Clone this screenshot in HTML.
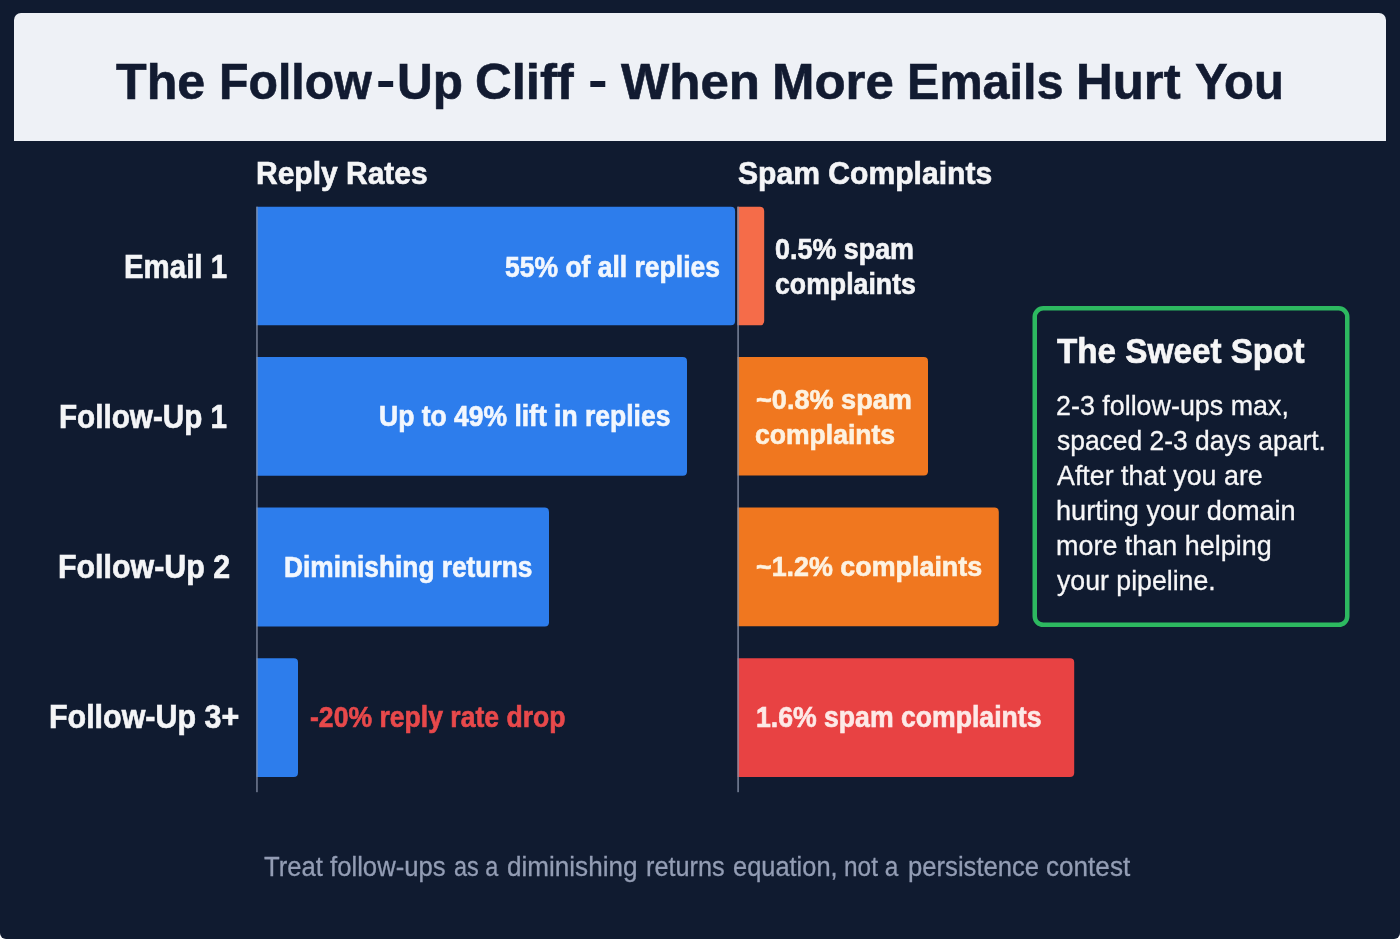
<!DOCTYPE html>
<html lang="en">
<head>
<meta charset="utf-8">
<title>The Follow-Up Cliff - When More Emails Hurt You</title>
<style>
*{box-sizing:border-box;margin:0;padding:0}
html,body{width:1400px;height:939px;overflow:hidden;background:#ffffff}
body{font-family:"Liberation Sans",sans-serif;position:relative}
#page{position:absolute;left:0;top:0;width:1400px;height:939px;background:#101b30;border-radius:0 0 6px 6px;overflow:hidden}
#titlebox{position:absolute;left:14px;top:13px;width:1372px;height:128px;background:#eef1f6;border-radius:7px 7px 0 0}
svg{position:absolute;left:0;top:0}
h1,h2,h3,p{font:inherit}
.t{display:block;position:absolute;white-space:nowrap;line-height:1;transform-origin:0 0}
</style>
</head>
<body>
<div id="page">
<div id="titlebox"></div>
<svg width="1400" height="939" viewBox="0 0 1400 939">
<path fill="#2d7dec" d="M256.5 206.7H730.9Q735.1 206.7 735.1 210.89999999999998V321.0Q735.1 325.2 730.9 325.2H256.5Z"/>
<path fill="#2d7dec" d="M256.5 357H682.8Q687 357 687 361.2V471.5Q687 475.7 682.8 475.7H256.5Z"/>
<path fill="#2d7dec" d="M256.5 507.5H544.8Q549 507.5 549 511.7V622.1999999999999Q549 626.4 544.8 626.4H256.5Z"/>
<path fill="#2d7dec" d="M256.5 658.2H293.8Q298 658.2 298 662.4000000000001V772.8Q298 777 293.8 777H256.5Z"/>
<path fill="#f56c49" d="M737.4 206.7H760.0Q764.2 206.7 764.2 210.89999999999998V321.0Q764.2 325.2 760.0 325.2H737.4Z"/>
<path fill="#f0771f" d="M737.6 357H923.8Q928 357 928 361.2V471.3Q928 475.5 923.8 475.5H737.6Z"/>
<path fill="#f0771f" d="M737.6 507.5H994.5999999999999Q998.8 507.5 998.8 511.7V622.0Q998.8 626.2 994.5999999999999 626.2H737.6Z"/>
<path fill="#e84243" d="M737.6 658.2H1070.0Q1074.2 658.2 1074.2 662.4000000000001V772.8Q1074.2 777 1070.0 777H737.6Z"/>
<rect x="256.2" y="206.7" width="1.5" height="585.5" fill="#8691a6" fill-opacity="0.85"/>
<rect x="737.3" y="206.7" width="1.6" height="585.5" fill="#8691a6" fill-opacity="0.85"/>
<rect x="1034.75" y="308.35" width="312.5" height="316.5" rx="8.5" ry="8.5" fill="none" stroke="#2db960" stroke-width="4.5"/>
</svg>
<h1><span class="t" style="left:116.30px;top:56.70px;font-size:50px;font-weight:700;color:#121b31;-webkit-text-stroke:0.6px currentColor;transform:scaleX(1.0036)">The</span> <span class="t" style="left:218.89px;top:56.70px;font-size:50px;font-weight:700;color:#121b31;-webkit-text-stroke:0.6px currentColor;transform:scaleX(0.9653)">Follow</span><span class="t" style="left:375.63px;top:55.15px;font-size:50px;font-weight:700;color:#121b31;transform:scaleX(1.1714)">-</span><span class="t" style="left:396.63px;top:56.70px;font-size:50px;font-weight:700;color:#121b31;-webkit-text-stroke:0.6px currentColor;transform:scaleX(0.9903)">Up</span> <span class="t" style="left:475.07px;top:56.70px;font-size:50px;font-weight:700;color:#121b31;-webkit-text-stroke:0.6px currentColor;transform:scaleX(1.0162)">Cliff</span> <span class="t" style="left:588.32px;top:55.15px;font-size:50px;font-weight:700;color:#121b31;transform:scaleX(1.1786)">-</span> <span class="t" style="left:621.31px;top:56.70px;font-size:50px;font-weight:700;color:#121b31;-webkit-text-stroke:0.6px currentColor;transform:scaleX(1.0213)">When</span> <span class="t" style="left:772.25px;top:56.70px;font-size:50px;font-weight:700;color:#121b31;-webkit-text-stroke:0.6px currentColor;transform:scaleX(1.0194)">More</span> <span class="t" style="left:907.38px;top:56.70px;font-size:50px;font-weight:700;color:#121b31;-webkit-text-stroke:0.6px currentColor;transform:scaleX(0.9713)">Emails</span> <span class="t" style="left:1076.25px;top:56.70px;font-size:50px;font-weight:700;color:#121b31;-webkit-text-stroke:0.6px currentColor;transform:scaleX(1.0178)">Hurt</span> <span class="t" style="left:1195.29px;top:56.70px;font-size:50px;font-weight:700;color:#121b31;-webkit-text-stroke:0.6px currentColor;transform:scaleX(0.9799)">You</span></h1>
<h2><span class="t" style="left:255.73px;top:156.68px;font-size:32px;font-weight:700;color:#f4f5f7;-webkit-text-stroke:0.65px currentColor;transform:scaleX(0.9374)">Reply Rates</span></h2>
<h2><span class="t" style="left:738.31px;top:156.68px;font-size:32px;font-weight:700;color:#f4f5f7;-webkit-text-stroke:0.65px currentColor;transform:scaleX(0.9403)">Spam Complaints</span></h2>
<div class="row"><h3><span class="t" style="left:124.01px;top:250.18px;font-size:33px;font-weight:700;color:#f4f5f7;-webkit-text-stroke:0.65px currentColor;transform:scaleX(0.8914)">Email 1</span></h3> <p><span class="t" style="left:504.80px;top:252.68px;font-size:29px;font-weight:700;color:#f2f7fe;-webkit-text-stroke:0.65px currentColor;transform:scaleX(0.9134)">55% of all replies</span></p> <p><span class="t" style="left:774.87px;top:234.68px;font-size:29px;font-weight:700;color:#f4f5f7;-webkit-text-stroke:0.65px currentColor;transform:scaleX(0.9271)">0.5% spam</span> <span class="t" style="left:774.88px;top:269.68px;font-size:29px;font-weight:700;color:#f4f5f7;-webkit-text-stroke:0.65px currentColor;transform:scaleX(0.9201)">complaints</span></p></div>
<div class="row"><h3><span class="t" style="left:58.99px;top:400.18px;font-size:33px;font-weight:700;color:#f4f5f7;-webkit-text-stroke:0.65px currentColor;transform:scaleX(0.8987)">Follow-Up 1</span></h3> <p><span class="t" style="left:379.38px;top:402.18px;font-size:29px;font-weight:700;color:#f2f7fe;-webkit-text-stroke:0.65px currentColor;transform:scaleX(0.9132)">Up to 49% lift in replies</span></p> <p><span class="t" style="left:755.61px;top:385.18px;font-size:28.5px;font-weight:700;color:#fdf2e1;-webkit-text-stroke:0.65px currentColor;transform:scaleX(0.9505)">~0.8% spam</span> <span class="t" style="left:755.37px;top:420.18px;font-size:28.5px;font-weight:700;color:#fdf2e1;-webkit-text-stroke:0.65px currentColor;transform:scaleX(0.9314)">complaints</span></p></div>
<div class="row"><h3><span class="t" style="left:58.46px;top:550.42px;font-size:33px;font-weight:700;color:#f4f5f7;-webkit-text-stroke:0.65px currentColor;transform:scaleX(0.9203)">Follow-Up 2</span></h3> <p><span class="t" style="left:283.89px;top:552.67px;font-size:29px;font-weight:700;color:#f2f7fe;-webkit-text-stroke:0.65px currentColor;transform:scaleX(0.9066)">Diminishing returns</span></p> <p><span class="t" style="left:755.61px;top:551.92px;font-size:28.5px;font-weight:700;color:#fdf2e1;-webkit-text-stroke:0.65px currentColor;transform:scaleX(0.9423)">~1.2% complaints</span></p></div>
<div class="row"><h3><span class="t" style="left:49.46px;top:700.17px;font-size:33px;font-weight:700;color:#f4f5f7;-webkit-text-stroke:0.65px currentColor;transform:scaleX(0.9220)">Follow-Up 3+</span></h3> <p><span class="t" style="left:309.88px;top:702.67px;font-size:29px;font-weight:700;color:#e8494b;-webkit-text-stroke:0.65px currentColor;transform:scaleX(0.9163)">-20% reply rate drop</span></p> <p><span class="t" style="left:755.78px;top:703.17px;font-size:29px;font-weight:700;color:#fde9e7;-webkit-text-stroke:0.65px currentColor;transform:scaleX(0.9177)">1.6% spam complaints</span></p></div>
<aside><h3><span class="t" style="left:1056.81px;top:332.68px;font-size:35px;font-weight:700;color:#f6f6f7;-webkit-text-stroke:0.65px currentColor;transform:scaleX(0.9500)">The Sweet Spot</span></h3> <p><span class="t" style="left:1056.18px;top:392.35px;font-size:28px;font-weight:400;color:#f7f7f8;-webkit-text-stroke:0.3px currentColor;transform:scaleX(0.9593)">2-3 follow-ups max,</span> <span class="t" style="left:1057.14px;top:427.35px;font-size:28px;font-weight:400;color:#f7f7f8;-webkit-text-stroke:0.3px currentColor;transform:scaleX(0.9440)">spaced 2-3 days apart.</span> <span class="t" style="left:1056.64px;top:462.35px;font-size:28px;font-weight:400;color:#f7f7f8;-webkit-text-stroke:0.3px currentColor;transform:scaleX(0.9580)">After that you are</span> <span class="t" style="left:1056.18px;top:497.35px;font-size:28px;font-weight:400;color:#f7f7f8;-webkit-text-stroke:0.3px currentColor;transform:scaleX(0.9686)">hurting your domain</span> <span class="t" style="left:1056.18px;top:531.85px;font-size:28px;font-weight:400;color:#f7f7f8;-webkit-text-stroke:0.3px currentColor;transform:scaleX(0.9622)">more than helping</span> <span class="t" style="left:1056.64px;top:566.85px;font-size:28px;font-weight:400;color:#f7f7f8;-webkit-text-stroke:0.3px currentColor;transform:scaleX(0.9526)">your pipeline.</span></p></aside>
<p class="foot"><span class="t" style="left:263.74px;top:854.35px;font-size:27px;font-weight:400;color:#939db4;-webkit-text-stroke:0.3px currentColor;transform:scaleX(0.9504)">Treat follow-ups</span> <span class="t" style="left:453.76px;top:854.35px;font-size:27px;font-weight:400;color:#939db4;-webkit-text-stroke:0.3px currentColor;transform:scaleX(0.8671)">as a</span> <span class="t" style="left:507.18px;top:854.35px;font-size:27px;font-weight:400;color:#939db4;-webkit-text-stroke:0.3px currentColor;transform:scaleX(0.9659)">diminishing</span> <span class="t" style="left:645.70px;top:854.35px;font-size:27px;font-weight:400;color:#939db4;-webkit-text-stroke:0.3px currentColor;transform:scaleX(0.9356)">returns</span> <span class="t" style="left:732.70px;top:854.35px;font-size:27px;font-weight:400;color:#939db4;-webkit-text-stroke:0.3px currentColor;transform:scaleX(0.9413)">equation,</span> <span class="t" style="left:843.73px;top:854.35px;font-size:27px;font-weight:400;color:#939db4;-webkit-text-stroke:0.3px currentColor;transform:scaleX(0.9033)">not a</span> <span class="t" style="left:907.69px;top:854.35px;font-size:27px;font-weight:400;color:#939db4;-webkit-text-stroke:0.3px currentColor;transform:scaleX(0.9497)">persistence</span> <span class="t" style="left:1045.68px;top:854.35px;font-size:27px;font-weight:400;color:#939db4;-webkit-text-stroke:0.3px currentColor;transform:scaleX(0.9672)">contest</span></p>
</div>
</body>
</html>
